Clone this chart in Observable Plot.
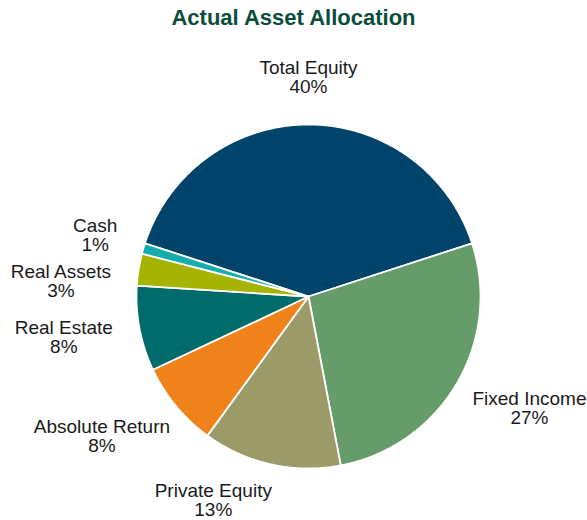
<!DOCTYPE html>
<html>
<head>
<meta charset="utf-8">
<script src="https://cdn.jsdelivr.net/npm/d3@7"></script>
<script src="https://cdn.jsdelivr.net/npm/@observablehq/plot@0.6"></script>
<style>
  html, body { margin: 0; padding: 0; background: #fff; }
  #title { width: 587px; height: 32px; padding-top: 5px; line-height: 32px; text-align: center;
           font: bold 22px "Liberation Sans", Arial, sans-serif; color: #0b4d3c; }
</style>
</head>
<body>
<div id="title">Actual Asset Allocation</div>
<div id="chart"></div>
<script>
// ---- data ----
const categories = ["Total Equity", "Fixed Income", "Private Equity", "Absolute Return", "Real Estate", "Real Assets", "Cash"];
const shares = [40, 27, 13, 8, 8, 3, 1];
const colors = ["#00446b", "#669b6a", "#9c9a68", "#f0821c", "#006b6b", "#a4b400", "#13adad"];

// ---- layout ----
const W = 587, H = 483;
const cx = 308, cy = 259, R = 172; // pixels
const fontSize = 19, lineH = 1.0;
const font = '"Liberation Sans", Arial, sans-serif';
// domain in units of radius so the pie is round
const xDomain = [-cx / R, (W - cx) / R];
const yDomain = [-(H - cy) / R, cy / R];

const total = d3.sum(shares);
const startAngle = -(shares[0] / total) * Math.PI; // first slice centred at 12 o'clock
const pie = d3.pie().sort(null).value(d => d.value).startAngle(startAngle).endAngle(startAngle + 2 * Math.PI);
const arcs = pie(categories.map((name, i) => ({name, value: shares[i]})));

// polygon outline points for each slice (angle measured clockwise from 12 o'clock)
const pts = [];
for (const a of arcs) {
  const n = Math.max(2, Math.ceil((a.endAngle - a.startAngle) / (Math.PI / 360)));
  pts.push({name: a.data.name, x: 0, y: 0});
  for (let k = 0; k <= n; k++) {
    const t = a.startAngle + (a.endAngle - a.startAngle) * k / n;
    pts.push({name: a.data.name, x: Math.sin(t), y: Math.cos(t)});
  }
  pts.push({name: a.data.name, x: 0, y: 0});
}

// label layout (pixel space, y down, relative to pie centre)
const ctx = document.createElement("canvas").getContext("2d");
ctx.font = `${fontSize}px ${font}`;
const gap = 28;
const TAU = 2 * Math.PI;
const boxAt = (t, w, h) => {
  const s = Math.sin(t), c = Math.cos(t);
  return {x: (R + gap) * s + (w / 2) * s, y: -(R + gap) * c - (h / 2) * c};
};
const labels = arcs.map(a => {
  let t = (a.startAngle + a.endAngle) / 2;
  const pct = Math.round(a.value / total * 100) + "%";
  const w = Math.max(ctx.measureText(a.data.name).width, ctx.measureText(pct).width);
  const h = 2 * fontSize * lineH;
  let b = boxAt(t, w, h);
  // rotate along the rim, away from the bottom / top, until the box fits vertically
  for (let k = 0; k < 180; k++) {
    const norm = ((t % TAU) + TAU) % TAU;
    const overBottom = cy + b.y + h / 2 > H - 1;
    const overTop = cy + b.y - h / 2 < 0;
    if (!overBottom && !overTop) break;
    const step = Math.PI / 360;
    if (overBottom) t += norm > Math.PI ? step : -step;
    else t += norm < Math.PI ? step : -step;
    b = boxAt(t, w, h);
  }
  // keep inside horizontally
  b.x = Math.min(W - cx - w / 2 - 1, Math.max(-cx + w / 2 + 1, b.x));
  const side = Math.sin(t) < 0 ? -1 : 1;
  return {text: a.data.name + "\n" + pct, px: b.x, py: b.y, w, h, side};
});
// push apart overlapping labels on the same side (top to bottom)
for (const side of [-1, 1]) {
  const group = labels.filter(l => l.side === side).sort((a, b) => a.py - b.py);
  for (let i = 1; i < group.length; i++) {
    const p = group[i - 1], q = group[i];
    const xOverlap = Math.abs(p.px - q.px) < (p.w + q.w) / 2;
    const minSep = (p.h + q.h) / 2 + 8;
    if (xOverlap && q.py - p.py < minSep) q.py = p.py + minSep;
  }
}
for (const l of labels) { l.x = l.px / R; l.y = -l.py / R; }

const chart = Plot.plot({
  width: W,
  height: H,
  margin: 0,
  x: {domain: xDomain, axis: null},
  y: {domain: yDomain, axis: null},
  color: {domain: categories, range: colors},
  style: {background: "#fff", overflow: "visible"},
  marks: [
    Plot.line(pts, {x: "x", y: "y", z: "name", fill: "name", stroke: "#fff", strokeWidth: 1.8, strokeLinejoin: "round", curve: "linear"}),
    Plot.text(labels, {x: "x", y: "y", text: "text", lineAnchor: "middle", lineHeight: lineH,
      fontSize: fontSize, fontFamily: font, fill: "#1a1a1a"})
  ]
});
document.getElementById("chart").appendChild(chart);
</script>
</body>
</html>
